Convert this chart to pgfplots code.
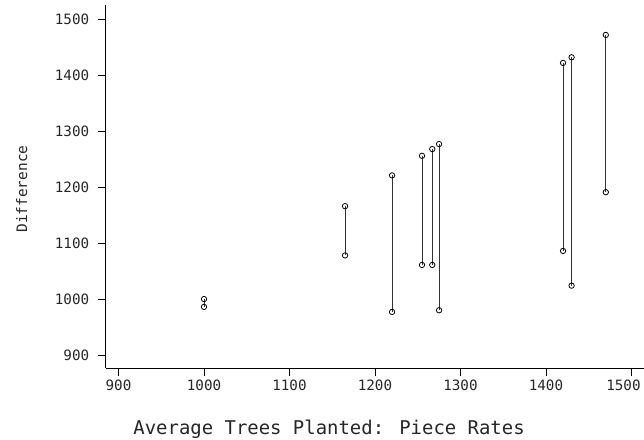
\documentclass[border=0pt]{standalone}
\usepackage{pgfplots}
\pgfplotsset{compat=1.18}
\usepackage{fontspec}
\setmainfont{DejaVu Sans Mono}

\pgfplotstableread{
x     y
1000  1000
1000  986
nan   nan
1165  1166
1165  1078
nan   nan
1220  1221
1220  977
nan   nan
1255  1256
1255  1061
nan   nan
1267  1268
1267  1061
nan   nan
1275  1277
1275  980
nan   nan
1420  1422
1420  1086
nan   nan
1430  1432
1430  1024
nan   nan
1470  1472
1470  1191
}\pairs

\begin{document}
\begin{tikzpicture}
\begin{axis}[
    scale only axis,
    width=538.3bp, height=363bp,
    xmin=885, xmax=1514.7,
    ymin=876.8, ymax=1525.5,
    axis x line*=bottom, axis y line*=left,
    axis line style={line width=0.8bp},
    tick align=outside,
    major tick length=8bp,
    tick style={black, line width=0.7bp},
    xtick={900,1000,...,1500},
    ytick={900,1000,...,1500},
    xticklabels={900,1000,1100,1200,1300,1400,\hspace*{-16bp}1500},
    /pgf/number format/assume math mode=true,
    /pgf/number format/1000 sep={},
    ticklabel style={font=\fontsize{14.3}{16}\selectfont, text=black!85},
    yticklabel style={xshift=-5bp},
    xlabel={Average Trees Planted: Piece Rates},
    ylabel={Difference},
    xlabel style={font=\fontsize{19}{22}\selectfont, text=black!85,
        at={(axis description cs:0.415,0)}, anchor=center, yshift=-61bp},
    ylabel style={font=\fontsize{14.5}{16}\selectfont, text=black!85,
        at={(axis description cs:-0.156,0.493)}, anchor=center},
    clip=false,
    unbounded coords=jump,
]
\addplot[black!80, line width=0.9bp, mark=o, mark size=2.7bp,
    mark options={black, line width=0.8bp, fill=white}] table[x=x, y=y] {\pairs};
\end{axis}
\pgfresetboundingbox
\path (-105.7bp,-72bp) rectangle (538.3bp,368bp);
\end{tikzpicture}
\end{document}
